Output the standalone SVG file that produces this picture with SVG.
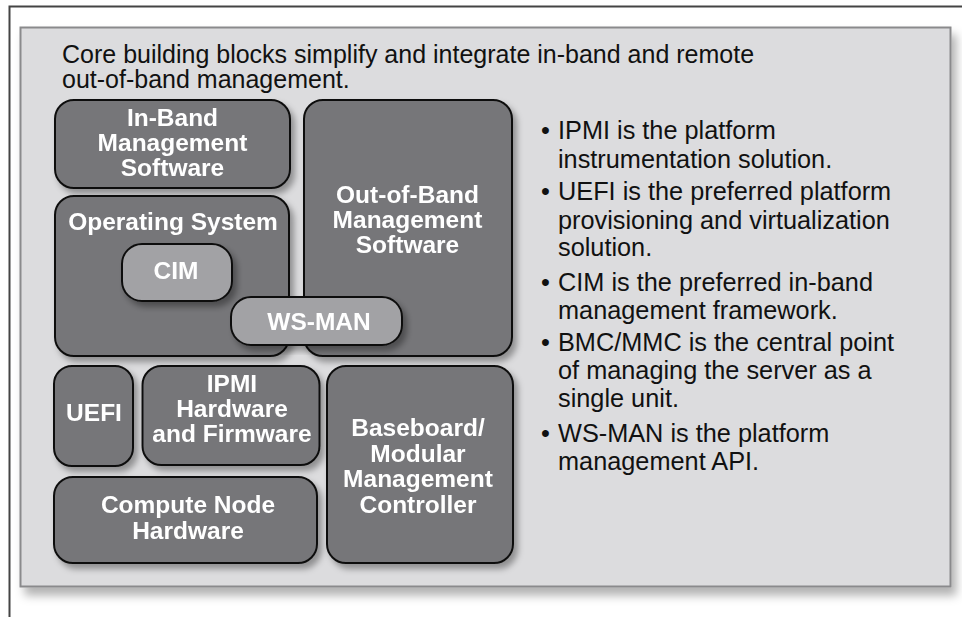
<svg xmlns="http://www.w3.org/2000/svg" width="962" height="617" viewBox="0 0 962 617">
<defs>
<filter id="sh" x="-10%" y="-10%" width="130%" height="130%">
<feDropShadow dx="4" dy="5" stdDeviation="3" flood-color="#000" flood-opacity="0.35"/>
</filter>
<filter id="psh" x="-5%" y="-5%" width="110%" height="115%">
<feDropShadow dx="5" dy="8" stdDeviation="5" flood-color="#000" flood-opacity="0.3"/>
</filter>
</defs>
<style>
.box{fill:#767679;stroke:#111;stroke-width:2;}
.lt{fill:#a2a2a5;stroke:#111;stroke-width:2;}
.bt{font-family:"Liberation Sans",Arial,sans-serif;font-weight:bold;font-size:24.5px;fill:#fff;text-anchor:middle;}
.tx{font-family:"Liberation Sans",Arial,sans-serif;font-size:25px;fill:#111;}
.rt{font-family:"Liberation Sans",Arial,sans-serif;font-size:25.3px;fill:#111;}
</style>
<rect width="962" height="617" fill="#fff"/>
<path d="M9.5 617 V6.5 H962" fill="none" stroke="#444" stroke-width="2"/>
<rect id="panel" x="20.5" y="27.5" width="930" height="559" fill="#dcdcde" stroke="#8a8a8c" stroke-width="2" filter="url(#psh)"/>
<text class="tx" x="62" y="63">Core building blocks simplify and integrate in-band and remote</text>
<text class="tx" x="62" y="88">out-of-band management.</text>
<g id="connectors"></g>
<g id="inband" filter="url(#sh)">
<rect class="box" x="55" y="100" width="235" height="88" rx="19"/>
<text class="bt" x="172.5" y="126">In-Band</text>
<text class="bt" x="172.5" y="151">Management</text>
<text class="bt" x="172.5" y="176">Software</text>
</g>
<g id="os" filter="url(#sh)">
<rect class="box" x="55" y="196" width="234" height="160" rx="19"/>
<text class="bt" x="173" y="230">Operating System</text>
</g>
<g id="oob" filter="url(#sh)">
<rect class="box" x="304" y="100" width="208" height="256" rx="19"/>
<text class="bt" x="407.5" y="203">Out-of-Band</text>
<text class="bt" x="407.5" y="228">Management</text>
<text class="bt" x="407.5" y="253">Software</text>
</g>
<g id="cim" filter="url(#sh)">
<rect class="lt" x="122" y="244" width="110" height="57" rx="20"/>
<text class="bt" x="176" y="279">CIM</text>
</g>
<g id="wsman" filter="url(#sh)">
<rect class="lt" x="231" y="297" width="171" height="48" rx="20"/>
<text class="bt" x="319" y="330">WS-MAN</text>
</g>
<g id="uefi" filter="url(#sh)">
<rect class="box" x="54" y="366" width="79" height="100" rx="18"/>
<text class="bt" x="94" y="421">UEFI</text>
</g>
<g id="ipmi" filter="url(#sh)">
<rect class="box" x="142.5" y="366" width="177" height="99" rx="19"/>
<text class="bt" x="232" y="392">IPMI</text>
<text class="bt" x="232" y="417">Hardware</text>
<text class="bt" x="232" y="442">and Firmware</text>
</g>
<g id="compute" filter="url(#sh)">
<rect class="box" x="54" y="477" width="263" height="86" rx="19"/>
<text class="bt" x="188" y="513">Compute Node</text>
<text class="bt" x="188" y="539">Hardware</text>
</g>
<g id="bmc" filter="url(#sh)">
<rect class="box" x="327" y="366" width="186" height="197" rx="19"/>
<text class="bt" x="418" y="436">Baseboard/</text>
<text class="bt" x="418" y="462">Modular</text>
<text class="bt" x="418" y="487">Management</text>
<text class="bt" x="418" y="513">Controller</text>
</g>
<g id="bullets" class="rt">
<text x="541" y="139">•</text><text x="558" y="139">IPMI is the platform</text>
<text x="558" y="167.5">instrumentation solution.</text>
<text x="541" y="200">•</text><text x="558" y="200">UEFI is the preferred platform</text>
<text x="558" y="228.5">provisioning and virtualization</text>
<text x="558" y="256">solution.</text>
<text x="541" y="290.5">•</text><text x="558" y="290.5">CIM is the preferred in-band</text>
<text x="558" y="318.5">management framework.</text>
<text x="541" y="351">•</text><text x="558" y="351">BMC/MMC is the central point</text>
<text x="558" y="379">of managing the server as a</text>
<text x="558" y="407">single unit.</text>
<text x="541" y="441.5">•</text><text x="558" y="441.5">WS-MAN is the platform</text>
<text x="558" y="469.5">management API.</text>
</g>
</svg>
